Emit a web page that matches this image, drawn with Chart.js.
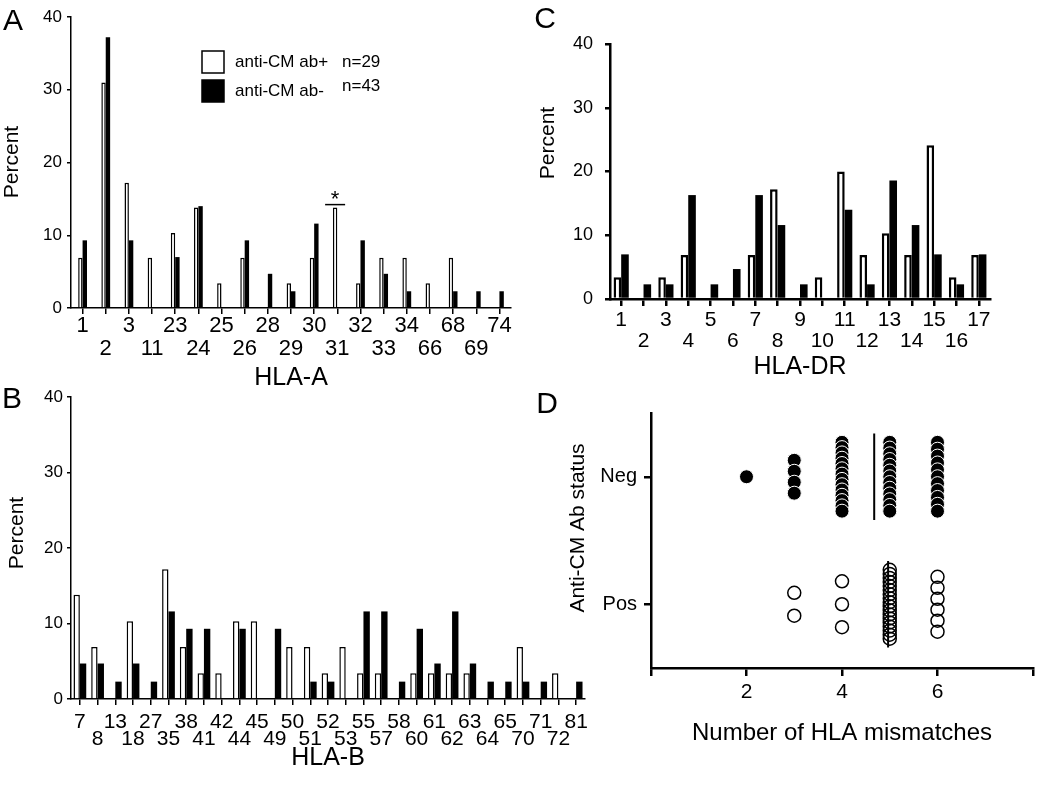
<!DOCTYPE html>
<html>
<head>
<meta charset="utf-8">
<title>HLA antigen frequencies and mismatches</title>
<script src="https://cdn.jsdelivr.net/npm/chart.js@4.4.1/dist/chart.umd.min.js"></script>
<style>
  html, body { margin: 0; padding: 0; background: #fff; }
  #fig { position: relative; width: 1048px; height: 791px; overflow: hidden; }
  canvas { position: absolute; }
</style>
</head>
<body>
<div id="fig">
  <canvas id="chartA" width="530" height="395" style="left:0;top:0"></canvas>
  <canvas id="chartB" width="600" height="411" style="left:0;top:380px"></canvas>
  <canvas id="chartC" width="518" height="395" style="left:530px;top:0"></canvas>
  <canvas id="chartD" width="518" height="411" style="left:530px;top:380px"></canvas>
</div>
<script>
// groups
const groupLabels = ['anti-CM ab+', 'anti-CM ab-'];
const groupN = [29, 43];

// panel A: HLA-A antigen frequency (%)
const hlaA = ['1', '2', '3', '11', '23', '24', '25', '26', '28', '29', '30', '31', '32', '33', '34', '66', '68', '69', '74'];
const hlaAPos = [6.9, 31.0, 17.2, 6.9, 10.3, 13.8, 3.4, 6.9, 0, 3.4, 6.9, 13.8, 3.4, 6.9, 6.9, 3.4, 6.9, 0, 0];
const hlaANeg = [9.3, 37.2, 9.3, 0, 7.0, 14.0, 0, 9.3, 4.7, 2.3, 11.6, 0, 9.3, 4.7, 2.3, 0, 2.3, 2.3, 2.3];

// panel B: HLA-B
const hlaB = ['7', '8', '13', '18', '27', '35', '38', '41', '42', '44', '45', '49', '50', '51', '52', '53', '55', '57', '58', '60', '61', '62', '63', '64', '65', '70', '71', '72', '81'];
const hlaBPos = [13.8, 6.9, 0, 10.3, 0, 17.2, 6.9, 3.4, 3.4, 10.3, 10.3, 0, 6.9, 6.9, 3.4, 6.9, 3.4, 3.4, 0, 3.4, 3.4, 3.4, 3.4, 0, 0, 6.9, 0, 3.4, 0];
const hlaBNeg = [4.7, 4.7, 2.3, 4.7, 2.3, 11.6, 9.3, 9.3, 0, 9.3, 0, 9.3, 0, 2.3, 2.3, 0, 11.6, 11.6, 2.3, 9.3, 4.7, 11.6, 4.7, 2.3, 2.3, 2.3, 2.3, 0, 2.3];

// panel C: HLA-DR
const hlaDR = ['1', '2', '3', '4', '5', '6', '7', '8', '9', '10', '11', '12', '13', '14', '15', '16', '17'];
const hlaDRPos = [3.4, 0, 3.4, 6.9, 0, 0, 6.9, 17.2, 0, 3.4, 20.0, 6.9, 10.3, 6.9, 24.1, 3.4, 6.9];
const hlaDRNeg = [7.0, 2.3, 2.3, 16.3, 2.3, 4.7, 16.3, 11.6, 2.3, 0, 14.0, 2.3, 18.6, 11.6, 7.0, 2.3, 7.0];

// panel D: number of patients per HLA mismatch count
const mismatchValues = [2, 3, 4, 5, 6];
const negCounts = [1, 4, 14, 13, 11];
const posCounts = [0, 2, 3, 18, 6];
const statusLabels = ['Pos', 'Neg'];

const FONT = "'Liberation Sans', Arial, Helvetica, sans-serif";
Chart.defaults.font.family = FONT;
Chart.defaults.color = '#000';

// draws panel letters, rotated titles, the legend and the star mark
const decor = {
  id: 'decor',
  afterDraw(chart, args, opts) {
    const ctx = chart.ctx;
    ctx.save();
    ctx.fillStyle = '#000';
    ctx.textBaseline = 'middle';
    (opts.texts || []).forEach(t => {
      ctx.save();
      ctx.font = t.font;
      ctx.textAlign = t.align || 'center';
      ctx.translate(t.x, t.y);
      if (t.rotate) ctx.rotate(t.rotate);
      ctx.fillText(t.text, 0, 0);
      ctx.restore();
    });
    const lg = opts.legend;
    if (lg) {
      chart.data.datasets.forEach((ds, i) => {
        const y = lg.y + i * lg.gap;
        ctx.fillStyle = ds.backgroundColor;
        ctx.fillRect(lg.x, y, lg.size, lg.size);
        ctx.strokeStyle = '#000';
        ctx.lineWidth = 1.5;
        ctx.strokeRect(lg.x, y, lg.size, lg.size);
        ctx.fillStyle = '#000';
        ctx.font = lg.font;
        ctx.textAlign = 'left';
        ctx.fillText(ds.label, lg.textX, y + lg.size / 2);
        ctx.fillText('n=' + groupN[i], lg.nX, y + lg.size / 2 + lg.nDy[i]);
      });
    }
    const st = opts.star;
    if (st) {
      const idx = chart.data.labels.indexOf(st.label);
      const el = chart.getDatasetMeta(st.dataset).data[idx];
      ctx.strokeStyle = '#000';
      ctx.lineWidth = 1.5;
      ctx.beginPath();
      ctx.moveTo(el.x - 10, el.y - 3);
      ctx.lineTo(el.x + 10, el.y - 3);
      ctx.stroke();
      ctx.font = '22px ' + FONT;
      ctx.textAlign = 'center';
      ctx.textBaseline = 'alphabetic';
      ctx.fillText('*', el.x, el.y - 2);
    }
    ctx.restore();
  }
};

function twoRowTick(value, index) {
  const label = this.getLabelForValue(value);
  return index % 2 === 0 ? [label, ''] : ['', label];
}

function barChart(id, labels, pos, neg, s) {
  return new Chart(document.getElementById(id), {
    type: 'bar',
    data: {
      labels: labels,
      datasets: [
        { label: groupLabels[0], data: pos, backgroundColor: '#fff', borderColor: '#000', borderWidth: s.bar },
        { label: groupLabels[1], data: neg, backgroundColor: '#000', borderColor: '#000', borderWidth: 0 }
      ]
    },
    options: {
      responsive: false,
      animation: false,
      devicePixelRatio: 1,
      layout: { padding: s.padding },
      datasets: { bar: { categoryPercentage: s.cat, barPercentage: 1 } },
      plugins: {
        legend: { display: false },
        tooltip: { enabled: false },
        decor: { texts: s.texts, legend: s.legend, star: s.star }
      },
      scales: {
        x: {
          offset: true,
          grid: { drawOnChartArea: false, offset: false, color: '#000', lineWidth: s.line, tickLength: s.xTick },
          border: { color: '#000', width: s.line },
          ticks: {
            color: '#000', autoSkip: false, maxRotation: 0, minRotation: 0, padding: s.xPad,
            font: { size: s.xFont, lineHeight: s.xLine }, callback: twoRowTick
          },
          title: { display: true, text: s.xTitle, color: '#000', font: { size: 25, lineHeight: 1 }, padding: { top: 0, bottom: s.titlePad } },
          afterFit: sc => { sc.height = s.xHeight; }
        },
        y: {
          min: 0, max: 40,
          grid: { drawOnChartArea: false, color: '#000', lineWidth: s.line, tickLength: s.yTick },
          border: { color: '#000', width: s.line },
          ticks: { stepSize: 10, color: '#000', padding: s.yPad, font: { size: s.yFont } },
          afterFit: sc => { sc.width = s.yWidth; }
        }
      }
    },
    plugins: [decor]
  });
}

barChart('chartA', hlaA, hlaAPos, hlaANeg, {
  padding: { top: 17, right: 19, left: 0, bottom: 0 },
  cat: 0.38, bar: 1.5, line: 1.5,
  xTick: 6, xPad: 0, xFont: 22, xLine: 1.05, xHeight: 87, xTitle: 'HLA-A', titlePad: 4,
  yTick: 4, yPad: 5, yFont: 17, yWidth: 71,
  texts: [
    { text: 'A', x: 13, y: 22, font: '30px ' + FONT },
    { text: 'Percent', x: 12.5, y: 162, rotate: -Math.PI / 2, font: '21px ' + FONT }
  ],
  legend: { x: 202, y: 51, size: 22, gap: 29, textX: 235, nX: 342, nDy: [0, -5], font: '17px ' + FONT },
  star: { label: '31', dataset: 0 }
});

barChart('chartB', hlaB, hlaBPos, hlaBNeg, {
  padding: { top: 17, right: 15, left: 0, bottom: 0 },
  cat: 0.72, bar: 1.5, line: 1.5,
  xTick: 6, xPad: 9, xFont: 21, xLine: 0.81, xHeight: 92, xTitle: 'HLA-B', titlePad: 20,
  yTick: 4, yPad: 4, yFont: 17, yWidth: 71,
  texts: [
    { text: 'B', x: 12, y: 20, font: '30px ' + FONT },
    { text: 'Percent', x: 17, y: 153, rotate: -Math.PI / 2, font: '21px ' + FONT }
  ]
});

barChart('chartC', hlaDR, hlaDRPos, hlaDRNeg, {
  padding: { top: 44, right: 58, left: 0, bottom: 0 },
  cat: 0.68, bar: 2.5, line: 2.5,
  xTick: 7, xPad: 4, xFont: 21, xLine: 1.0, xHeight: 96, xTitle: 'HLA-DR', titlePad: 15,
  yTick: 5, yPad: 12, yFont: 18, yWidth: 80,
  texts: [
    { text: 'C', x: 15, y: 20, font: '30px ' + FONT },
    { text: 'Percent', x: 18, y: 143, rotate: -Math.PI / 2, font: '21px ' + FONT }
  ]
});

// panel D: dot plot, dots stacked vertically around each status level
function swarm(counts, level) {
  const pts = [];
  mismatchValues.forEach((m, i) => {
    const k = counts[i];
    const step = k <= 3 ? 0.18 : Math.min(0.086, 0.54 / (k - 1));
    for (let j = 0; j < k; j++) {
      pts.push({ x: m, y: level + ((k - 1) / 2 - j) * step });
    }
  });
  return pts;
}

function mean(counts) {
  let sum = 0, n = 0;
  counts.forEach((c, i) => { sum += c * mismatchValues[i]; n += c; });
  return sum / n;
}

function meanLine(counts, level) {
  const m = mean(counts);
  return [{ x: m, y: level + 0.34 }, { x: m, y: level - 0.34 }];
}

const negLevel = statusLabels.indexOf('Neg');
const posLevel = statusLabels.indexOf('Pos');

new Chart(document.getElementById('chartD'), {
  type: 'scatter',
  data: {
    datasets: [
      { label: 'Neg mean', data: meanLine(negCounts, negLevel), showLine: true, pointRadius: 0, borderColor: '#000', borderWidth: 2, order: 0 },
      { label: 'Pos mean', data: meanLine(posCounts, posLevel), showLine: true, pointRadius: 0, borderColor: '#000', borderWidth: 2, order: 0 },
      { label: groupLabels[1], data: swarm(negCounts, negLevel), pointRadius: 7, backgroundColor: '#000', borderColor: '#fff', borderWidth: 1, order: 1 },
      { label: groupLabels[0], data: swarm(posCounts, posLevel), pointRadius: 6.5, backgroundColor: 'rgba(0,0,0,0)', borderColor: '#000', borderWidth: 1.5, order: 1 }
    ]
  },
  options: {
    responsive: false,
    animation: false,
    devicePixelRatio: 1,
    layout: { padding: { top: 33, right: 15, left: 0, bottom: 0 } },
    plugins: {
      legend: { display: false },
      tooltip: { enabled: false },
      decor: {
        texts: [
          { text: 'D', x: 17, y: 25, font: '30px ' + FONT },
          { text: 'Anti-CM Ab status', x: 48, y: 148, rotate: -Math.PI / 2, font: '21px ' + FONT }
        ]
      }
    },
    scales: {
      x: {
        type: 'linear', min: 0, max: 8,
        grid: { drawOnChartArea: false, color: '#000', lineWidth: 2.5, tickLength: 8 },
        border: { color: '#000', width: 2.5 },
        ticks: { stepSize: 2, color: '#000', padding: 4, font: { size: 21 }, callback: v => (v === 0 || v === 8) ? '' : v },
        title: { display: true, text: 'Number of HLA mismatches', color: '#000', font: { size: 24, lineHeight: 1 }, padding: { top: 0, bottom: 46 } },
        afterFit: sc => { sc.height = 123; }
      },
      y: {
        type: 'linear', min: -0.5, max: 1.5,
        afterBuildTicks: sc => { sc.ticks = statusLabels.map((_, i) => ({ value: i })); },
        grid: { drawOnChartArea: false, color: '#000', lineWidth: 2.5, tickLength: 7 },
        border: { color: '#000', width: 2.5 },
        ticks: { color: '#000', padding: 7, font: { size: 20 }, callback: v => statusLabels[v] ?? '' },
        afterFit: sc => { sc.width = 121; }
      }
    }
  },
  plugins: [decor]
});
</script>
</body>
</html>
